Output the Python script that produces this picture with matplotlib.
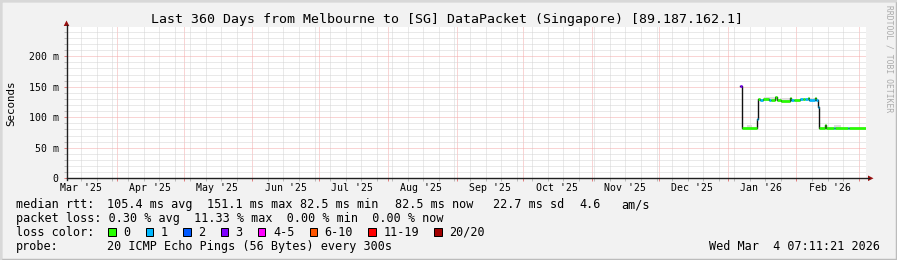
import matplotlib
matplotlib.use('Agg')
import matplotlib.pyplot as plt
import matplotlib.dates as mdates
import matplotlib.ticker as mticker
from matplotlib.patches import Rectangle, Polygon
from matplotlib.lines import Line2D
from matplotlib.transforms import blended_transform_factory
import pandas as pd

W, H = 897, 260
FONT = 'DejaVu Sans Mono'

title = 'Last 360 Days from Melbourne to [SG] DataPacket (Singapore) [89.187.162.1]'
t_start = pd.Timestamp('2025-03-09 07:11:21')
t_end = pd.Timestamp('2026-03-04 07:11:21')

# median rtt as steps (start time, value in ms, lost pings out of 20)
step_start = ['2026-01-06 18:00', '2026-01-07 06:00', '2026-01-14 06:00', '2026-01-14 18:00',
              '2026-01-15 12:00', '2026-01-17 00:00', '2026-01-19 12:00', '2026-01-20 12:00',
              '2026-01-22 12:00', '2026-01-23 00:00', '2026-01-25 00:00', '2026-01-29 06:00',
              '2026-01-29 18:00', '2026-01-31 00:00', '2026-02-02 18:00', '2026-02-04 00:00',
              '2026-02-05 00:00', '2026-02-06 06:00', '2026-02-06 18:00', '2026-02-09 12:00',
              '2026-02-10 00:00', '2026-02-10 12:00', '2026-02-11 00:00', '2026-02-13 18:00',
              '2026-02-14 06:00', '2026-02-18 00:00', '2026-02-18 12:00', '2026-02-24 00:00',
              '2026-02-24 12:00']
step_median = [151.1, 82.5, 98.0, 129.2, 129.0, 129.3, 128.8, 129.0, 132.5, 129.0,
               127.2, 131.5, 127.8, 127.6, 129.5, 129.3, 129.6, 131.8, 129.0, 131.0,
               128.5, 117.0, 82.5, 87.0, 82.5, 82.6, 82.5, 82.6, 82.5]
step_loss = [3, 0, 1, 0, 1, 0, 1, 0, 0, 0,
             0, 0, 1, 0, 1, 0, 1, 0, 1, 0,
             1, 1, 0, 0, 0, 1, 0, 1, 0]

# light smoke (spread of single pings)
smoke_start = ['2026-01-09 18:00', '2026-01-17 06:00', '2026-01-24 18:00', '2026-02-07 10:00', '2026-02-17 18:00']
smoke_end = ['2026-01-12 00:00', '2026-01-21 18:00', '2026-01-29 06:00', '2026-02-10 00:00', '2026-02-21 00:00']
smoke_low = [82.5, 129.0, 127.4, 129.0, 82.5]
smoke_high = [88.0, 133.0, 132.0, 132.0, 87.5]

loss_labels = ['0', '1', '2', '3', '4-5', '6-10', '11-19', '20/20']
loss_colors = ['#26ff00', '#00b8ff', '#0059ff', '#7e00ff', '#ff00ff', '#ff5500', '#ff0000', '#a10000']

rtt_items = ['median rtt:', '105.4 ms avg', '151.1 ms max', '82.5 ms min', '82.5 ms now',
             '22.7 ms sd', '4.6', 'am/s']
rtt_x = [16, 107.3, 207.3, 300, 395, 493.3, 579, 621.7]
loss_line = 'packet loss: 0.30 % avg  11.33 % max  0.00 % min  0.00 % now'
probe_text = '20 ICMP Echo Pings (56 Bytes) every 300s'
stamp = 'Wed Mar  4 07:11:21 2026'


def fx(x):
    return x / W


def fy(y):
    return 1 - y / H


def tnum(s):
    return mdates.date2num(pd.to_datetime(s).to_pydatetime())


fig = plt.figure(figsize=(W / 100, H / 100), dpi=100, facecolor='#f2f2f2')

# frame shading
fig.add_artist(Rectangle((0, 0), 1, 1, transform=fig.transFigure, fill=False,
                         edgecolor='#bcbcbc', linewidth=2.5))
fig.add_artist(Line2D([0, 0, 1], [0, 1, 1], transform=fig.transFigure, color='#d8d8d8', lw=2.5))

L, R, B, T = 66.5, 866, 178.3, 27
ax = fig.add_axes([fx(L), fy(B), fx(R) - fx(L), fy(T) - fy(B)])
ax.set_facecolor('white')
for s in ax.spines.values():
    s.set_visible(False)

x0, x1 = tnum(t_start), tnum(t_end)
ax.set_xlim(x0, x1)
ax.set_ylim(0, 248)

ax.xaxis.set_major_locator(mdates.MonthLocator())
ax.xaxis.set_minor_locator(mdates.WeekdayLocator(byweekday=mdates.SU))
ax.xaxis.set_major_formatter(mticker.NullFormatter())
ax.yaxis.set_major_locator(mticker.MultipleLocator(50))
ax.yaxis.set_minor_locator(mticker.MultipleLocator(10))
ax.yaxis.set_major_formatter(mticker.FuncFormatter(lambda v, p: '0' if v == 0 else '%d m' % v))

dots = (0, (1, 1))
ax.grid(which='minor', color='#d4d4d4', linestyle=dots, linewidth=0.72)
ax.grid(which='major', color='#f4aaaa', linestyle=dots, linewidth=0.72)
ax.set_axisbelow(True)
ax.tick_params(which='both', direction='out', length=2, width=0.72)
ax.tick_params(axis='both', which='minor', color='#bbbbbb')
ax.tick_params(axis='both', which='major', color='#e08080')
ax.tick_params(axis='y', which='major', labelsize=7.1, pad=3.5, labelcolor='black')
for lab in ax.get_yticklabels():
    lab.set_fontfamily(FONT)

# month labels in the middle of each month
mid_months = pd.date_range('2025-03-01', '2026-02-01', freq='MS') + pd.Timedelta(days=15)
btr = blended_transform_factory(ax.transData, fig.transFigure)
for m in mid_months:
    ax.text(tnum(m), fy(190.7), m.strftime("%b '%y"), transform=btr, ha='center',
            va='baseline', fontsize=7.1, family=FONT, clip_on=False)

# smoke
for s0, s1, lo, hi in zip(smoke_start, smoke_end, smoke_low, smoke_high):
    ax.fill_between([tnum(s0), tnum(s1)], [lo, lo], [hi, hi], color='#dddddd', lw=0, zorder=2)

# median line: black steps with loss coloured segments
ts = [tnum(s) for s in step_start] + [x1]
ax.step(ts, step_median + [step_median[-1]], where='post', color='#111111', lw=1.0, zorder=3)
for i, v in enumerate(step_median):
    ax.hlines(v, ts[i], ts[i + 1], color=loss_colors[step_loss[i]], lw=1.9, zorder=4)

# axes with arrows
axis_col = '#202020'
arrow_col = '#9a1010'
fig.add_artist(Line2D([fx(L), fx(869)], [fy(B), fy(B)], transform=fig.transFigure, color=axis_col, lw=1))
fig.add_artist(Line2D([fx(L), fx(L)], [fy(B + 2), fy(25)], transform=fig.transFigure, color=axis_col, lw=1))
fig.add_artist(Polygon([(fx(868), fy(175.5)), (fx(868), fy(181.1)), (fx(873.5), fy(B))],
                       closed=True, transform=fig.transFigure, color=arrow_col, lw=0))
fig.add_artist(Polygon([(fx(63.7), fy(26)), (fx(69.3), fy(26)), (fx(L), fy(20.5))],
                       closed=True, transform=fig.transFigure, color=arrow_col, lw=0))

# texts
fig.text(fx(447), fy(23.5), title, ha='center', va='baseline', fontsize=9.5, family=FONT)
fig.text(fx(11), fy(103), 'Seconds', rotation=90, ha='center', va='center', fontsize=7.8, family=FONT)
fig.text(fx(889), fy(59), 'RRDTOOL / TOBI OETIKER', rotation=270, ha='center', va='center',
         fontsize=5.8, family=FONT, color='#ababab')

for s, x in zip(rtt_items, rtt_x):
    fig.text(fx(x), fy(208), s, ha='left', va='baseline', fontsize=8.5, family=FONT)
fig.text(fx(16), fy(222.2), loss_line, ha='left', va='baseline', fontsize=8.5, family=FONT)
fig.text(fx(16), fy(235.7), 'loss color:', ha='left', va='baseline', fontsize=8.5, family=FONT)
sx = 108.3
for lab, col in zip(loss_labels, loss_colors):
    fig.add_artist(Rectangle((fx(sx), fy(235.5)), 7.5 / W, 8 / H, transform=fig.transFigure,
                             facecolor=col, edgecolor='black', lw=0.72))
    fig.text(fx(sx + 15), fy(235.7), lab, ha='left', va='baseline', fontsize=8.5, family=FONT)
    sx = sx + 15 + len(lab) * 7.1 + 15.3
fig.text(fx(16), fy(250), 'probe:', ha='left', va='baseline', fontsize=8.5, family=FONT)
fig.text(fx(107.3), fy(250), probe_text, ha='left', va='baseline', fontsize=8.5, family=FONT)
fig.text(fx(880), fy(250), stamp, ha='right', va='baseline', fontsize=8.5, family=FONT)

fig.savefig('out.png', dpi=100, facecolor=fig.get_facecolor())
